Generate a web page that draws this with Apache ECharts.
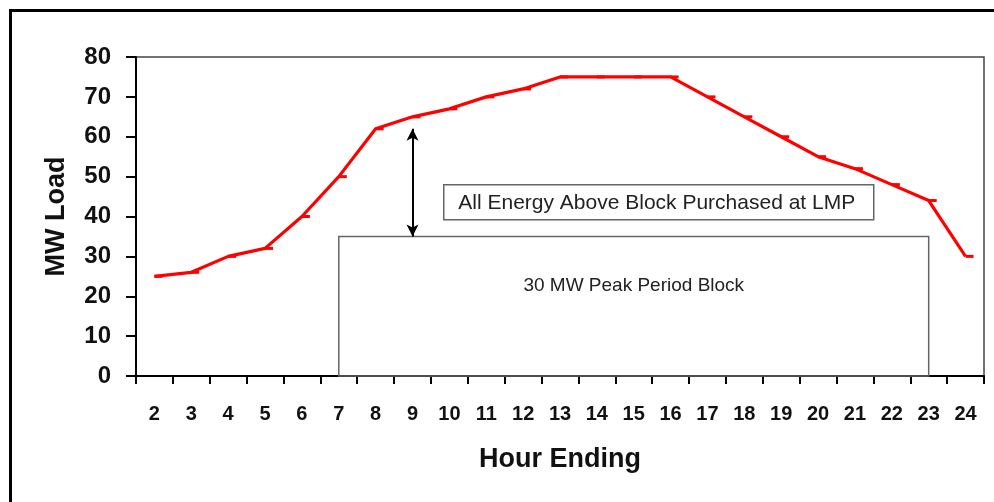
<!DOCTYPE html>
<html>
<head>
<meta charset="utf-8">
<script src="https://cdn.jsdelivr.net/npm/echarts@6/dist/echarts.min.js"></script>
<style>
  html, body { margin: 0; padding: 0; background: #fff; }
  #chart { width: 994px; height: 502px; }
</style>
</head>
<body>
<div id="chart"></div>
<script>
// Hourly load profile (hour ending 2..24) in MW
const hours = ['2','3','4','5','6','7','8','9','10','11','12','13','14','15','16','17','18','19','20','21','22','23','24'];
const loadMW = [25, 26, 30, 32, 40, 50, 62, 65, 67, 70, 72, 75, 75, 75, 75, 70, 65, 60, 55, 52, 48, 44, 30];

// Peak period block: spans hour 7 to hour 23, drawn up to this level
const blockStart = '7';
const blockEnd = '23';
const blockTop = 35;
const blockLabel = '30 MW Peak Period Block';

// Double arrow showing energy above the block at hour 9
const arrowHour = '9';
const arrowFrom = 35;
const arrowTo = 62;
const noteText = 'All Energy Above Block Purchased at LMP';

const FONT = '"Liberation Sans", Arial, sans-serif';

const chart = echarts.init(document.getElementById('chart'), null, { renderer: 'canvas' });

chart.setOption({
  backgroundColor: '#fff',
  animation: false,
  grid: {
    left: 136, right: 10, top: 57, bottom: 126,
    show: true, borderColor: '#444', borderWidth: 1.5, backgroundColor: 'transparent'
  },
  xAxis: {
    type: 'category',
    data: hours,
    boundaryGap: true,
    name: 'Hour Ending',
    nameLocation: 'middle',
    nameGap: 70,
    nameTextStyle: { fontFamily: FONT, fontWeight: 'bold', fontSize: 27, color: '#111' },
    axisLine: { lineStyle: { color: '#000', width: 2 } },
    axisTick: { show: true, interval: 0, length: 8, lineStyle: { color: '#000', width: 2 } },
    axisLabel: { interval: 0, margin: 28, fontFamily: FONT, fontWeight: 'bold', fontSize: 20, color: '#111' },
    splitLine: { show: false }
  },
  yAxis: {
    type: 'value',
    min: 0, max: 80, interval: 10,
    name: 'MW Load',
    nameLocation: 'middle',
    nameGap: 66,
    nameTextStyle: { fontFamily: FONT, fontWeight: 'bold', fontSize: 27, color: '#111' },
    axisLine: { show: true, lineStyle: { color: '#000', width: 2 } },
    axisTick: { show: true, length: 10, lineStyle: { color: '#000', width: 2 } },
    axisLabel: { margin: 25, fontFamily: FONT, fontWeight: 'bold', fontSize: 24, color: '#111' },
    splitLine: { show: false }
  },
  series: [{
    type: 'line',
    data: loadMW,
    z: 5,
    lineStyle: { color: '#ff0000', width: 3.2 },
    itemStyle: { color: '#ff0000' },
    symbol: 'rect',
    symbolSize: [8, 3],
    symbolOffset: [4, 0],
    showSymbol: true,
    markArea: {
      silent: true,
      itemStyle: { color: 'rgba(0,0,0,0)', borderColor: '#666', borderWidth: 1.5 },
      label: {
        show: true, position: 'insideTop', distance: 41,
        fontFamily: FONT, fontSize: 19, color: '#222'
      },
      data: [[
        { name: blockLabel, xAxis: blockStart, yAxis: 0 },
        { xAxis: blockEnd, yAxis: blockTop }
      ]]
    },
    markLine: {
      silent: true,
      symbol: ['arrow', 'arrow'],
      symbolSize: [9, 12],
      lineStyle: { color: '#000', width: 2, type: 'solid' },
      label: { show: false },
      data: [[
        { coord: [arrowHour, arrowFrom] },
        { coord: [arrowHour, arrowTo] }
      ]]
    }
  }],
  graphic: [
    {
      type: 'rect',
      shape: { x: 10.5, y: 10.5, width: 1100, height: 700 },
      style: { fill: 'none', stroke: '#000', lineWidth: 3 },
      silent: true, z: 10
    },
    {
      type: 'group',
      left: 443, top: 184,
      children: [
        { type: 'rect', shape: { x: 0, y: 0, width: 430, height: 35 },
          style: { fill: '#fff', stroke: '#666', lineWidth: 1.5 } },
        { type: 'text', x: 213, y: 18,
          style: { text: noteText, fontFamily: FONT, fontSize: 21, fill: '#222',
                   textAlign: 'center', textVerticalAlign: 'middle' } }
      ]
    }
  ]
});
</script>
</body>
</html>
